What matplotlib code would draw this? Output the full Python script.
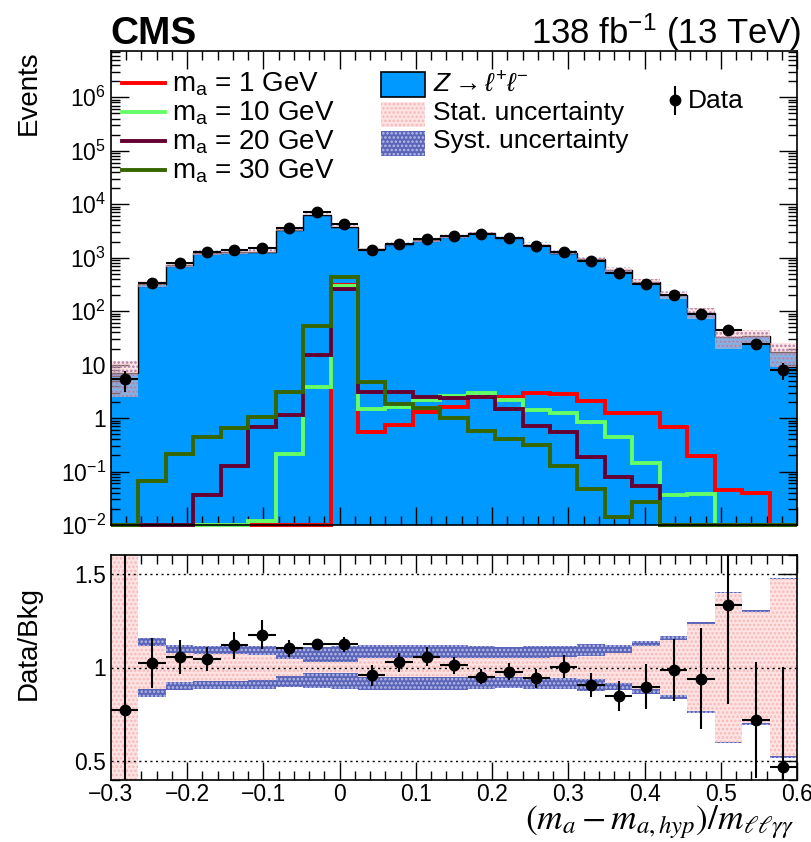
import numpy as np
import matplotlib
matplotlib.use("Agg")
import matplotlib.pyplot as plt
from matplotlib.lines import Line2D
from matplotlib.patches import Rectangle
from matplotlib.ticker import FixedLocator, FixedFormatter, MultipleLocator, NullFormatter, LogLocator

# ---------------- data ----------------
x_low, x_high, n_bins = -0.3, 0.6, 25

mc_bkg = [7.0, 322, 738, 1227, 1272, 1297, 3325, 6394, 3816, 1439, 1791, 2098, 2492,
          2858, 2339, 1740, 1245, 948, 599, 352, 202, 92.5, 33, 34, 17]
data_obs = [5.4, 330, 780, 1283, 1422, 1525, 3667, 7180, 4285, 1380, 1841, 2218, 2522,
            2715, 2285, 1641, 1250, 860, 507, 316, 199, 87, 44, 24.5, 8]
data_err = [2.3, 18, 28, 36, 38, 39, 61, 85, 65, 37, 43, 47, 50,
            52, 48, 40, 35, 29, 22, 18, 14, 9.3, 6.6, 5.0, 2.8]
ratio_err = [0.9, 0.135, 0.09, 0.065, 0.07, 0.075, 0.045, 0.03, 0.04, 0.055, 0.05, 0.05, 0.045,
             0.04, 0.045, 0.05, 0.06, 0.066, 0.08, 0.12, 0.165, 0.27, 0.53, 0.31, 0.53]
stat_rel = [0.65, 0.115, 0.078, 0.07, 0.07, 0.065, 0.045, 0.03, 0.03, 0.05, 0.05, 0.05, 0.05,
            0.05, 0.05, 0.05, 0.055, 0.06, 0.08, 0.115, 0.148, 0.232, 0.395, 0.295, 0.47]
total_rel = [0.66, 0.155, 0.12, 0.117, 0.115, 0.115, 0.105, 0.11, 0.115, 0.12, 0.12, 0.12, 0.12,
             0.115, 0.11, 0.115, 0.115, 0.124, 0.12, 0.142, 0.17, 0.245, 0.405, 0.305, 0.48]

sig_1gev = [0, 0, 0, 0, 0, 0, 0, 0, 310, 0.54, 0.74, 1.28, 1.63,
            2.44, 2.44, 2.97, 2.77, 2.08, 1.26, 1.26, 0.69, 0.195, 0.046, 0.039, 0]
sig_10gev = [0, 0, 0, 0, 0, 0.012, 0.21, 3.75, 295, 1.45, 1.58, 2.17, 2.58,
             2.89, 2.17, 1.41, 1.22, 0.85, 0.45, 0.146, 0.036, 0.038, 0, 0, 0]
sig_20gev = [0, 0, 0, 0.036, 0.128, 0.67, 1.14, 15, 262, 3.1, 3.1, 2.5, 2.33,
             2.5, 1.45, 0.71, 0.54, 0.184, 0.080, 0.054, 0, 0, 0, 0, 0]
sig_30gev = [0, 0.067, 0.21, 0.44, 0.64, 1.03, 3.1, 53, 437, 4.8, 1.83, 1.56, 0.99,
             0.58, 0.40, 0.31, 0.128, 0.048, 0.0139, 0.027, 0, 0, 0, 0, 0]

sig_labels = ["1", "10", "20", "30"]
sig_colors = ["#ff0000", "#66ff66", "#660033", "#376600"]

y_ticks = [1e-2, 1e-1, 1, 10, 1e2, 1e3, 1e4, 1e5, 1e6]
y_ticklabels = [r"$10^{-2}$", r"$10^{-1}$", "1", "10", r"$10^{2}$", r"$10^{3}$",
                r"$10^{4}$", r"$10^{5}$", r"$10^{6}$"]
x_ticks = [-0.3, -0.2, -0.1, 0.0, 0.1, 0.2, 0.3, 0.4, 0.5, 0.6]
x_ticklabels = ["\u22120.3", "\u22120.2", "\u22120.1", "0", "0.1", "0.2", "0.3", "0.4", "0.5", "0.6"]
r_ticks = [0.5, 1.0, 1.5]
r_ticklabels = ["0.5", "1", "1.5"]

# ---------------- style ----------------
plt.rcParams["font.family"] = ["Liberation Sans", "DejaVu Sans"]
plt.rcParams["mathtext.fontset"] = "custom"
plt.rcParams["mathtext.rm"] = "Liberation Sans"
plt.rcParams["mathtext.it"] = "Liberation Sans:italic"
plt.rcParams["mathtext.bf"] = "Liberation Sans:bold"
plt.rcParams["hatch.linewidth"] = 1.2

W, H = 811, 842
fig = plt.figure(figsize=(W / 100, H / 100), dpi=100)

def fx(px):
    return px / W

def fy(py):
    return 1 - py / H

edges = np.linspace(x_low, x_high, n_bins + 1)
centers = 0.5 * (edges[1:] + edges[:-1])
half = 0.5 * (edges[1] - edges[0])
mc = np.array(mc_bkg, dtype=float)
dat = np.array(data_obs, dtype=float)
srel = np.array(stat_rel)
trel = np.array(total_rel)

ax1 = fig.add_axes([fx(111), fy(525), fx(797) - fx(111), fy(50.5) - fy(525)])
ax2 = fig.add_axes([fx(111), fy(780), fx(797) - fx(111), fy(555) - fy(780)])

YMIN, YMAX = 1e-2, 7.5e6
BKG_COLOR = "#0099ff"

# ---- top panel ----
ax1.set_yscale("log")
ax1.stairs(mc, edges, baseline=1e-5, fill=True, color=BKG_COLOR, zorder=1)
ax1.stairs(mc, edges, baseline=None, color="k", lw=1.0, zorder=2)
ax1.stairs(mc * (1 + srel), edges, baseline=mc * (1 - srel), fill=True,
           facecolor=(1, 0.8, 0.8, 0.5), edgecolor="#ffaaaa", hatch="....", lw=0, zorder=3)
ax1.stairs(mc * (1 + trel), edges, baseline=mc * (1 - trel), fill=True,
           facecolor="none", edgecolor=(0.25, 0.3, 0.7, 0.4), hatch="....", lw=0, zorder=3)

for vals, col in zip([sig_1gev, sig_10gev, sig_20gev, sig_30gev], sig_colors):
    v = np.clip(np.array(vals, dtype=float), YMIN, None)
    ax1.stairs(v, edges, baseline=None, color=col, lw=2.8, zorder=4, clip_on=False)

ax1.errorbar(centers, dat, xerr=half, yerr=data_err, fmt="o", color="k", ms=7.5,
             elinewidth=1.5, capsize=0, zorder=6)

ax1.set_xlim(x_low, x_high)
ax1.set_ylim(YMIN, YMAX)
ax1.yaxis.set_major_locator(FixedLocator(y_ticks))
ax1.yaxis.set_major_formatter(FixedFormatter(y_ticklabels))
ax1.yaxis.set_minor_locator(LogLocator(base=10, subs=np.arange(2, 10), numticks=20))
ax1.yaxis.set_minor_formatter(NullFormatter())
ax1.xaxis.set_major_locator(FixedLocator(x_ticks))
ax1.xaxis.set_minor_locator(MultipleLocator(0.02))
ax1.tick_params(labelbottom=False)
ax1.set_ylabel("Events", fontsize=20, loc="top")
ax1.yaxis.set_label_coords(-0.1006, 1.0)

# ---- ratio panel ----
ratio = dat / mc
ax2.stairs(1 + trel, edges, baseline=1 - trel, fill=True,
           facecolor="#5a64b8", edgecolor="#b8bde6", hatch="....", lw=0, zorder=1)
ax2.stairs(1 + srel, edges, baseline=1 - srel, fill=True,
           facecolor="#fde3e3", edgecolor="#f7b8b8", hatch="....", lw=0, zorder=2)
for yv in r_ticks:
    ax2.axhline(yv, color="k", ls=(0, (1.5, 2.5)), lw=1.0, zorder=3)
ax2.errorbar(centers, ratio, xerr=half, yerr=ratio_err, fmt="o", color="k", ms=7.5,
             elinewidth=1.5, capsize=0, zorder=6)
ax2.set_xlim(x_low, x_high)
ax2.set_ylim(0.4, 1.6)
ax2.yaxis.set_major_locator(FixedLocator(r_ticks))
ax2.yaxis.set_major_formatter(FixedFormatter(r_ticklabels))
ax2.yaxis.set_minor_locator(MultipleLocator(0.1))
ax2.xaxis.set_major_locator(FixedLocator(x_ticks))
ax2.xaxis.set_major_formatter(FixedFormatter(x_ticklabels))
ax2.xaxis.set_minor_locator(MultipleLocator(0.02))
ax2.set_ylabel("Data/Bkg", fontsize=20)
ax2.yaxis.set_label_coords(-0.1006, 0.61)

for ax in (ax1, ax2):
    ax.tick_params(which="both", direction="in", top=True, right=True, width=1.0,
                   labelsize=16.5, color="k")
    ax.tick_params(which="major", length=13)
    ax.tick_params(which="minor", length=6.5)
    for s in ax.spines.values():
        s.set_linewidth(1.2)
        s.set_zorder(10)
ax2.tick_params(axis="x", pad=2)

fig.text(fx(795), fy(829), r"$(m_{a} - m_{a,hyp})/m_{\ell\ell\gamma\gamma}$", fontsize=25.5,
         math_fontfamily="stix", ha="right", va="baseline")

# ---- header ----
fig.text(fx(110), fy(44), "CMS", fontsize=28, fontweight="bold", ha="left", va="baseline")
fig.text(fx(801), fy(44), r"138 fb$^{-1}$ (13 TeV)", fontsize=25, ha="right", va="baseline")

# ---- legend (manual) ----
leg_fs = 19
rows_y = [83, 112, 141, 170]
for yv, lab, col in zip(rows_y, sig_labels, sig_colors):
    fig.add_artist(Line2D([fx(122), fx(165)], [fy(yv), fy(yv)], color=col, lw=2.8))
    fig.text(fx(172), fy(yv + 1), r"m$_{\mathregular{a}}$ = " + lab + " GeV", fontsize=20,
             ha="left", va="center")

box_w, box_h = 44, 25
fig.add_artist(Rectangle((fx(381), fy(97)), fx(box_w), box_h / H, facecolor=BKG_COLOR,
                         edgecolor="k", lw=1.2))
fig.add_artist(Rectangle((fx(381), fy(127)), fx(box_w), box_h / H, facecolor="#fde3e3",
                         edgecolor="#f7b8b8", hatch="....", lw=0))
fig.add_artist(Rectangle((fx(381), fy(156)), fx(box_w), box_h / H, facecolor="#5a64b8",
                         edgecolor="#b8bde6", hatch="....", lw=0))
fig.text(fx(433), fy(84), r"$Z \rightarrow \ell^{+}\ell^{-}$", fontsize=leg_fs, ha="left", va="center")
fig.text(fx(433), fy(113), "Stat. uncertainty", fontsize=leg_fs, ha="left", va="center")
fig.text(fx(433), fy(141), "Syst. uncertainty", fontsize=leg_fs, ha="left", va="center")

fig.add_artist(Line2D([fx(675), fx(675)], [fy(87), fy(114)], color="k", lw=1.5))
fig.add_artist(Line2D([fx(675)], [fy(100)], marker="o", color="k", ms=7.5))
fig.text(fx(688), fy(101), "Data", fontsize=leg_fs, ha="left", va="center")

fig.savefig("out.png", dpi=100)
